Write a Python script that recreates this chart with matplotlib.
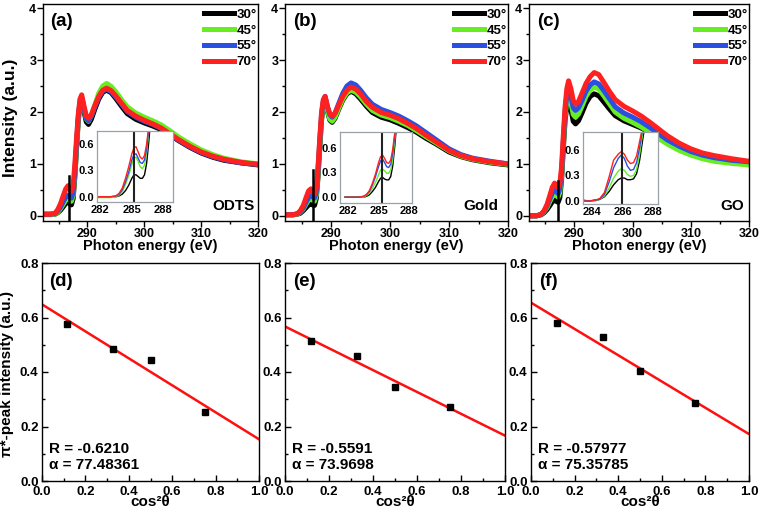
import numpy as np
import matplotlib
matplotlib.use('Agg')
import matplotlib.pyplot as plt
from matplotlib.ticker import MultipleLocator

plt.rcParams['font.family'] = ['Liberation Sans', 'DejaVu Sans']
plt.rcParams['font.weight'] = 'bold'
plt.rcParams['axes.labelweight'] = 'bold'
plt.rcParams['axes.linewidth'] = 1.0

W, H = 760, 512

# ---------------- data: NEXAFS spectra (main panels) ----------------
energy = [282.2, 282.7, 283.5, 284.3, 284.8, 285.3, 285.8, 286.2, 286.6, 286.9, 287.2,
          287.5, 287.8, 288.1, 288.4, 288.7, 289.0, 289.4, 289.8, 290.2, 290.7,
          291.3, 292.0, 292.7, 293.4, 294.2, 295.0, 296.0, 297.0, 298.5, 300.0,
          301.5, 303.0, 304.5, 306.0, 308.0, 310.0, 312.0, 314.0, 317.0, 320.0]

angles = ['30°', '45°', '55°', '70°']
colors = ['#000000', '#66ee22', '#2b4fe0', '#ff2020']

a_30 = [0.03, 0.03, 0.03, 0.03, 0.06, 0.11, 0.18, 0.24, 0.27, 0.23, 0.21, 0.33, 0.75, 1.30, 1.82, 2.14, 2.25, 2.02, 1.81, 1.76, 1.86,
        2.05, 2.25, 2.38, 2.42, 2.37, 2.26, 2.11, 1.97, 1.86, 1.79, 1.73, 1.66, 1.56, 1.45, 1.32, 1.21, 1.13, 1.07, 1.02, 0.98]
a_45 = [0.02, 0.02, 0.02, 0.03, 0.07, 0.14, 0.23, 0.30, 0.33, 0.30, 0.28, 0.40, 0.80, 1.35, 1.85, 2.17, 2.28, 2.07, 1.87, 1.82, 1.93,
        2.13, 2.36, 2.50, 2.55, 2.49, 2.39, 2.24, 2.10, 1.98, 1.90, 1.83, 1.75, 1.64, 1.52, 1.39, 1.27, 1.18, 1.11, 1.04, 1.00]
a_55 = [0.03, 0.03, 0.03, 0.04, 0.09, 0.17, 0.28, 0.36, 0.40, 0.36, 0.34, 0.45, 0.85, 1.40, 1.90, 2.20, 2.29, 2.08, 1.88, 1.83, 1.92,
        2.09, 2.28, 2.40, 2.44, 2.39, 2.29, 2.15, 2.01, 1.90, 1.82, 1.76, 1.68, 1.57, 1.46, 1.33, 1.22, 1.14, 1.08, 1.02, 0.99]
a_70 = [0.03, 0.03, 0.03, 0.05, 0.12, 0.24, 0.40, 0.52, 0.58, 0.50, 0.47, 0.58, 1.00, 1.50, 1.95, 2.25, 2.33, 2.12, 1.93, 1.88, 1.95,
        2.12, 2.30, 2.42, 2.46, 2.41, 2.31, 2.17, 2.03, 1.92, 1.84, 1.77, 1.69, 1.58, 1.47, 1.34, 1.23, 1.15, 1.09, 1.03, 0.99]

b_30 = [0.02, 0.02, 0.02, 0.03, 0.05, 0.10, 0.16, 0.21, 0.23, 0.21, 0.20, 0.33, 0.75, 1.32, 1.85, 2.15, 2.25, 2.01, 1.84, 1.80, 1.88,
        2.05, 2.23, 2.35, 2.40, 2.35, 2.25, 2.11, 1.99, 1.90, 1.85, 1.78, 1.70, 1.61, 1.50, 1.37, 1.23, 1.14, 1.08, 1.02, 0.98]
b_45 = [0.02, 0.02, 0.02, 0.03, 0.07, 0.13, 0.23, 0.30, 0.33, 0.30, 0.28, 0.40, 0.82, 1.38, 1.90, 2.18, 2.27, 2.03, 1.86, 1.82, 1.90,
        2.07, 2.25, 2.37, 2.42, 2.38, 2.29, 2.15, 2.03, 1.94, 1.89, 1.82, 1.74, 1.64, 1.53, 1.39, 1.25, 1.15, 1.09, 1.03, 0.99]
b_55 = [0.02, 0.02, 0.02, 0.04, 0.08, 0.15, 0.27, 0.35, 0.39, 0.36, 0.34, 0.45, 0.88, 1.45, 1.95, 2.22, 2.30, 2.10, 1.95, 1.90, 1.98,
        2.16, 2.36, 2.50, 2.56, 2.52, 2.42, 2.27, 2.15, 2.05, 1.99, 1.92, 1.83, 1.73, 1.61, 1.45, 1.29, 1.18, 1.11, 1.05, 1.00]
b_70 = [0.02, 0.02, 0.02, 0.04, 0.10, 0.20, 0.36, 0.48, 0.52, 0.46, 0.42, 0.52, 0.95, 1.50, 2.00, 2.24, 2.30, 2.10, 1.96, 1.92, 1.98,
        2.13, 2.30, 2.42, 2.48, 2.44, 2.35, 2.20, 2.09, 1.99, 1.94, 1.87, 1.78, 1.68, 1.56, 1.41, 1.26, 1.16, 1.10, 1.04, 1.00]

c_30 = [0.01, 0.00, 0.00, 0.02, 0.06, 0.12, 0.20, 0.27, 0.30, 0.28, 0.26, 0.35, 0.70, 1.30, 1.83, 2.12, 2.25, 2.05, 1.82, 1.77, 1.83,
        1.98, 2.17, 2.30, 2.35, 2.31, 2.20, 2.06, 1.93, 1.83, 1.76, 1.69, 1.60, 1.50, 1.40, 1.29, 1.20, 1.13, 1.08, 1.04, 1.02]
c_45 = [0.00, 0.00, 0.00, 0.03, 0.08, 0.16, 0.28, 0.37, 0.42, 0.39, 0.36, 0.45, 0.78, 1.38, 1.92, 2.22, 2.35, 2.18, 1.95, 1.90, 1.96,
        2.11, 2.30, 2.42, 2.48, 2.44, 2.32, 2.16, 2.00, 1.88, 1.80, 1.71, 1.60, 1.49, 1.38, 1.26, 1.17, 1.10, 1.05, 1.01, 0.98]
c_55 = [0.00, 0.00, 0.00, 0.03, 0.09, 0.19, 0.33, 0.44, 0.50, 0.46, 0.43, 0.52, 0.85, 1.45, 2.00, 2.32, 2.45, 2.30, 2.08, 2.03, 2.08,
        2.22, 2.40, 2.52, 2.58, 2.54, 2.42, 2.26, 2.10, 1.98, 1.90, 1.81, 1.70, 1.58, 1.46, 1.34, 1.24, 1.17, 1.12, 1.07, 1.04]
c_70 = [-0.01, 0.00, 0.00, 0.03, 0.10, 0.22, 0.40, 0.55, 0.63, 0.58, 0.54, 0.62, 0.95, 1.55, 2.10, 2.45, 2.60, 2.45, 2.22, 2.15, 2.20,
        2.36, 2.55, 2.68, 2.76, 2.72, 2.58, 2.40, 2.24, 2.11, 2.02, 1.92, 1.80, 1.67, 1.54, 1.40, 1.29, 1.21, 1.16, 1.10, 1.05]

# pi* marker lines in main panels (energy, top value)
pi_line_main = {'a': (286.7, 0.77), 'b': (286.9, 0.88), 'c': (287.2, 0.68)}

# ---------------- data: insets (pi* region) ----------------
inset_e_ab = [281.7, 282.5, 283.0, 283.5, 283.8, 284.1, 284.4, 284.7, 285.0, 285.2,
              285.4, 285.6, 285.8, 286.0, 286.2, 286.4, 286.6, 286.8]
ia_30 = [0.00, 0.00, 0.00, 0.00, 0.01, 0.03, 0.07, 0.13, 0.21, 0.25, 0.25, 0.23, 0.21, 0.21, 0.25, 0.38, 0.62, 0.90]
ia_45 = [-0.01, -0.01, -0.01, 0.00, 0.02, 0.06, 0.14, 0.24, 0.37, 0.44, 0.45, 0.40, 0.34, 0.32, 0.36, 0.50, 0.74, 0.95]
ia_55 = [0.00, 0.00, 0.00, 0.01, 0.03, 0.08, 0.17, 0.28, 0.42, 0.48, 0.49, 0.44, 0.39, 0.38, 0.42, 0.55, 0.77, 0.95]
ia_70 = [0.00, 0.00, 0.00, 0.01, 0.04, 0.10, 0.21, 0.34, 0.49, 0.56, 0.57, 0.51, 0.45, 0.43, 0.47, 0.60, 0.80, 0.95]

ib_30 = [0.00, 0.00, 0.00, 0.00, 0.01, 0.03, 0.07, 0.12, 0.19, 0.23, 0.24, 0.22, 0.21, 0.21, 0.25, 0.38, 0.62, 0.90]
ib_45 = [0.00, 0.00, 0.00, 0.00, 0.02, 0.05, 0.11, 0.18, 0.27, 0.33, 0.34, 0.32, 0.29, 0.29, 0.33, 0.46, 0.70, 0.95]
ib_55 = [0.00, 0.00, 0.00, 0.01, 0.03, 0.07, 0.15, 0.25, 0.37, 0.44, 0.46, 0.42, 0.37, 0.36, 0.40, 0.53, 0.75, 0.95]
ib_70 = [0.00, 0.00, 0.00, 0.01, 0.03, 0.08, 0.17, 0.28, 0.42, 0.49, 0.51, 0.47, 0.42, 0.41, 0.45, 0.58, 0.78, 0.95]

inset_e_c = [283.4, 283.8, 284.2, 284.5, 284.8, 285.1, 285.4, 285.7, 285.9, 286.1,
             286.3, 286.5, 286.7, 286.9, 287.1, 287.3, 287.5]
ic_30 = [0.01, 0.00, 0.01, 0.02, 0.05, 0.11, 0.19, 0.25, 0.27, 0.27, 0.25, 0.25, 0.26, 0.32, 0.48, 0.72, 0.95]
ic_45 = [0.00, 0.00, 0.00, 0.02, 0.06, 0.15, 0.27, 0.35, 0.38, 0.36, 0.31, 0.29, 0.30, 0.37, 0.55, 0.80, 1.00]
ic_55 = [0.00, 0.00, 0.01, 0.02, 0.08, 0.22, 0.39, 0.50, 0.54, 0.50, 0.41, 0.36, 0.37, 0.45, 0.63, 0.84, 1.00]
ic_70 = [0.00, 0.00, 0.01, 0.03, 0.10, 0.28, 0.48, 0.55, 0.58, 0.55, 0.48, 0.44, 0.45, 0.53, 0.70, 0.88, 1.00]

# ---------------- data: pi* peak intensity vs cos^2(theta) ----------------
cos2 = [0.117, 0.329, 0.500, 0.750]
d_peak = [0.575, 0.483, 0.443, 0.252]
e_peak = [0.514, 0.457, 0.346, 0.272]
f_peak = [0.581, 0.527, 0.404, 0.288]
fit_text = {'d': ('R = -0.6210', 'α = 77.48361'),
            'e': ('R = -0.5591', 'α = 73.9698'),
            'f': ('R = -0.57977', 'α = 75.35785')}

samples = ['ODTS', 'Gold', 'GO']


def box(x0, y0, x1, y1):
    return [x0 / W, 1 - y1 / H, (x1 - x0) / W, (y1 - y0) / H]


fig = plt.figure(figsize=(7.6, 5.12), dpi=100)

top_boxes = [(43, 4, 258, 221), (285, 4, 508, 221), (529, 4, 749, 221)]
inset_boxes = [(97, 131, 173, 202), (340, 132, 412, 203), (583, 132, 658, 204)]
inset_xlims = [(281.7, 288.9), (281.2, 288.3), (283.4, 288.3)]
inset_ylims = [(-0.06, 0.75), (-0.07, 0.79), (-0.035, 0.81)]
inset_xticks = [[282, 285, 288], [282, 285, 288], [284, 286, 288]]
inset_lines = [285.25, 285.3, 285.95]
main_sets = [(a_30, a_45, a_55, a_70), (b_30, b_45, b_55, b_70), (c_30, c_45, c_55, c_70)]
inset_sets = [(inset_e_ab, (ia_30, ia_45, ia_55, ia_70)),
              (inset_e_ab, (ib_30, ib_45, ib_55, ib_70)),
              (inset_e_c, (ic_30, ic_45, ic_55, ic_70))]
letters_top = ['(a)', '(b)', '(c)']
sample_xpos = [0.985, 0.955, 0.98]

for i, key in enumerate(['a', 'b', 'c']):
    ax = fig.add_axes(box(*top_boxes[i]))
    for series, col, lab in zip(main_sets[i], colors, angles):
        ax.plot(energy, series, color=col, lw=3.6, label=lab, solid_joinstyle='round')
    ex, ey = pi_line_main[key]
    ax.plot([ex, ex], [-0.1, ey], color='k', lw=1.8, zorder=5)
    ax.set_xlim(282.2, 320)
    ax.set_ylim(-0.1, 4.08)
    ax.xaxis.set_major_locator(MultipleLocator(10))
    ax.xaxis.set_minor_locator(MultipleLocator(5))
    ax.yaxis.set_major_locator(MultipleLocator(1))
    ax.yaxis.set_minor_locator(MultipleLocator(0.5))
    ax.tick_params(which='major', direction='out', length=4, width=1, labelsize=9, pad=0.8)
    ax.tick_params(which='minor', direction='out', length=2.5, width=1)
    ax.set_xlabel('Photon energy (eV)', fontsize=10.5)
    ax.xaxis.set_label_coords(0.5, -0.083)
    if i == 0:
        ax.set_ylabel('Intensity (a.u.)', fontsize=12.5)
        ax.yaxis.set_label_coords(-0.115, 0.477)
    ax.text(0.035, 0.96, letters_top[i], transform=ax.transAxes, fontsize=13.5,
            fontweight='bold', va='top', ha='left')
    ax.text(sample_xpos[i], 0.035, samples[i], transform=ax.transAxes, fontsize=11,
            fontweight='bold', va='bottom', ha='right')
    leg = ax.legend(loc='upper right', bbox_to_anchor=(1.0, 0.985), frameon=False,
                    fontsize=9.5, handlelength=2.3, handletextpad=0.15,
                    labelspacing=0.27, borderaxespad=0.0, borderpad=0.1)
    for t in leg.get_texts():
        t.set_fontweight('bold')

    # inset
    axi = fig.add_axes(box(*inset_boxes[i]))
    axi.set_facecolor('white')
    ie, iser = inset_sets[i]
    for series, col in zip(iser, colors):
        axi.plot(ie, series, color=col, lw=1.0)
    axi.axvline(inset_lines[i], color='#222222', lw=1.5)
    axi.set_xlim(*inset_xlims[i])
    axi.set_ylim(*inset_ylims[i])
    axi.set_xticks(inset_xticks[i])
    axi.set_yticks([0.0, 0.3, 0.6])
    axi.set_yticklabels(['0.0', '0.3', '0.6'])
    axi.tick_params(length=0, labelsize=8, pad=2)
    for sp in axi.spines.values():
        sp.set_color('#9aa0a8')
        sp.set_linewidth(0.9)

bot_boxes = [(42, 263, 259, 481), (285, 263, 505, 481), (531, 263, 749, 481)]
peaks = [d_peak, e_peak, f_peak]
letters_bot = ['(d)', '(e)', '(f)']
for i, key in enumerate(['d', 'e', 'f']):
    ax = fig.add_axes(box(*bot_boxes[i]))
    coef = np.polyfit(cos2, peaks[i], 1)
    xf = np.array([0.0, 1.0])
    ax.plot(xf, np.polyval(coef, xf), color='#ff1010', lw=1.8)
    ax.plot(cos2, peaks[i], 's', color='k', ms=5)
    ax.set_xlim(0, 1.0)
    ax.set_ylim(0, 0.8)
    ax.xaxis.set_major_locator(MultipleLocator(0.2))
    ax.xaxis.set_minor_locator(MultipleLocator(0.1))
    ax.yaxis.set_major_locator(MultipleLocator(0.2))
    ax.yaxis.set_minor_locator(MultipleLocator(0.1))
    ax.xaxis.set_major_formatter(plt.FormatStrFormatter('%.1f'))
    ax.yaxis.set_major_formatter(plt.FormatStrFormatter('%.1f'))
    ax.tick_params(which='major', direction='in', length=4, width=1, labelsize=9.5, pad=2.5)
    ax.tick_params(axis='x', which='major', pad=3.5)
    ax.tick_params(which='minor', direction='in', length=2.5, width=1)
    ax.set_xlabel('cos²θ', fontsize=11)
    ax.xaxis.set_label_coords(0.5, -0.066)
    if i == 0:
        ax.set_ylabel('π*-peak intensity (a.u.)', fontsize=11)
        ax.yaxis.set_label_coords(-0.13, 0.493)
    ax.text(0.035, 0.955, letters_bot[i], transform=ax.transAxes, fontsize=13.5,
            fontweight='bold', va='top', ha='left')
    r_txt, a_txt = fit_text[key]
    ax.text(0.03, 0.145, r_txt, transform=ax.transAxes, fontsize=11,
            fontweight='bold', va='center', ha='left')
    ax.text(0.03, 0.075, a_txt, transform=ax.transAxes, fontsize=11,
            fontweight='bold', va='center', ha='left')

fig.savefig('out.png', dpi=100)
